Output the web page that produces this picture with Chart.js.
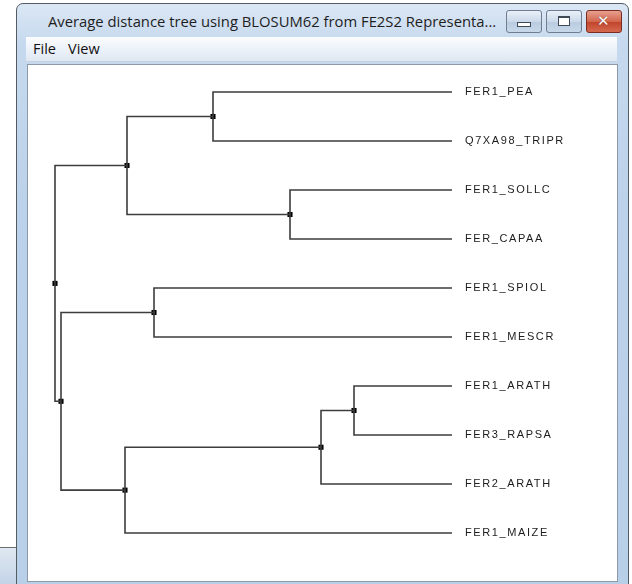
<!DOCTYPE html>
<html>
<head>
<meta charset="utf-8">
<script src="https://cdn.jsdelivr.net/npm/chart.js@4"></script>
<style>
  html, body { margin: 0; padding: 0; background: #fff; width: 632px; height: 584px; overflow: hidden; position: relative; font-family: "Open Sans", "Noto Sans", sans-serif; }
  #taskbar { position: absolute; left: 0; top: 547px; width: 16px; height: 37px; border-top: 1px solid #6d6d6d; background: linear-gradient(#dfe8f2, #c2d3e6); }
  #win { position: absolute; left: 16px; top: 3px; width: 611px; height: 600px; border: 1px solid #555b63; border-radius: 7px 7px 0 0; background: linear-gradient(#dbe7f5 0px, #c6d9ee 40px, #bcd2ea 200px, #b8cfe8 600px); }
  #title { position: absolute; left: 31px; top: 7px; font-size: 14.8px; color: #1e1e1e; white-space: nowrap; }
  .btn { position: absolute; top: 6px; height: 21px; width: 34px; border: 1px solid #6f7d8f; border-radius: 3px; background: linear-gradient(#e9f0f8, #cbd9ea 50%, #b9cbe0 51%, #c8d8ea); }
  #bmin { left: 489px; }
  #bmax { left: 529px; }
  #bclose { left: 569px; border-color: #7a2b22; background: linear-gradient(#e7a08f, #d2664e 50%, #c0432a 51%, #d56a4f); }
  #bmin i { position: absolute; left: 10px; top: 11px; width: 12px; height: 3px; border: 1px solid #3f4a57; background: #fff; }
  #bmax i { position: absolute; left: 11px; top: 5px; width: 10px; height: 7px; border: 1px solid #3f4a57; border-top-width: 2px; background: #fff; }
  #bclose i { position: absolute; left: 10px; top: 1px; color: #fff; font: bold 15px "DejaVu Sans", sans-serif; text-shadow: 0 0 1px #5a1a10; }
  #menu { position: absolute; left: 26px; top: 37px; width: 591px; height: 24px; background: linear-gradient(#fbfcfe, #eaf0f8 60%, #dfe7f2); border-bottom: 1px solid #c9d3df; font-size: 14.5px; color: #111; }
  #menu span { position: absolute; top: 2px; }
  #panel { position: absolute; left: 27px; top: 64px; width: 589px; height: 516px; background: #fff; border: 1px solid #8d99a7; }
  #c { position: absolute; left: 28px; top: 65px; }
</style>
</head>
<body>
<div id="taskbar"></div>
<div id="win">
  <div id="title">Average distance tree using BLOSUM62 from FE2S2 Representa...</div>
  <div class="btn" id="bmin"><i></i></div>
  <div class="btn" id="bmax"><i></i></div>
  <div class="btn" id="bclose"><i>✕</i></div>
</div>
<div id="menu"><span style="left:7px">File</span><span style="left:42px">View</span></div>
<div id="panel"></div>
<canvas id="c" width="589" height="515"></canvas>
<script>
// hojas del arbol, de arriba a abajo
const leaves = ["FER1_PEA", "Q7XA98_TRIPR", "FER1_SOLLC", "FER_CAPAA", "FER1_SPIOL",
  "FER1_MESCR", "FER1_ARATH", "FER3_RAPSA", "FER2_ARATH", "FER1_MAIZE"];
// nodos internos (indices 10..18): hijo izquierdo, hijo derecho, distancia
const nodeLeft = [0, 2, 10, 4, 6, 14, 15, 13, 12];
const nodeRight = [1, 3, 11, 5, 7, 8, 9, 16, 17];
const nodeDist = [23.9, 16.2, 32.5, 29.8, 9.8, 13.1, 32.7, 39.1, 39.7];

const ctx = document.getElementById("c");
const nLeaves = leaves.length;
const posX = leaves.map(() => 0);
const posY = leaves.map((l, i) => i);
nodeDist.forEach((d, k) => {
  posX.push(d);
  posY.push((posY[nodeLeft[k]] + posY[nodeRight[k]]) / 2);
});

const lineColor = "#3d3d3d";
const datasets = nodeDist.map((d, k) => {
  const a = nodeLeft[k], b = nodeRight[k];
  return {
    data: [
      { x: posX[a], y: posY[a] },
      { x: d, y: posY[a] },
      { x: d, y: posY[b] },
      { x: posX[b], y: posY[b] }
    ],
    showLine: true,
    borderColor: lineColor,
    borderWidth: 1.6,
    pointRadius: 0,
    tension: 0,
    clip: false
  };
});
// cuadrados en los nodos
datasets.push({
  data: nodeDist.map((d, k) => ({ x: d, y: posY[nLeaves + k] })),
  pointStyle: "rect",
  pointRadius: 3.6,
  pointBackgroundColor: "#000",
  pointBorderColor: "#000",
  pointBorderWidth: 0,
  showLine: false,
  clip: false
});

const spacing = {
  id: "spacing",
  beforeDraw(chart) { chart.ctx.letterSpacing = "1.6px"; }
};

new Chart(ctx, {
  type: "scatter",
  data: { datasets: datasets },
  plugins: [spacing],
  options: {
    responsive: false,
    animation: false,
    devicePixelRatio: 1,
    layout: { padding: { left: 27, top: 27, bottom: 47, right: 0 } },
    plugins: { legend: { display: false }, tooltip: { enabled: false } },
    scales: {
      x: { type: "linear", display: false, reverse: true, min: 0, max: 39.7 },
      y: {
        type: "linear",
        position: "right",
        reverse: true,
        min: 0,
        max: nLeaves - 1,
        afterFit(scale) { scale.width = 165; },
        afterBuildTicks(scale) { scale.ticks = leaves.map((l, i) => ({ value: i })); },
        grid: { display: false, drawTicks: false },
        border: { display: false },
        ticks: {
          padding: 13,
          autoSkip: false,
          color: "#1c1c1c",
          font: { family: "Liberation Sans", size: 11 },
          callback: v => leaves[v]
        }
      }
    }
  }
});
</script>
</body>
</html>
